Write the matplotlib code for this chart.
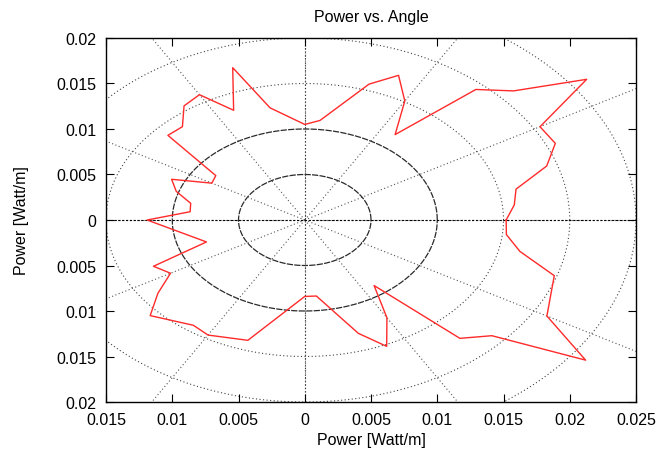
import numpy as np
import matplotlib
matplotlib.use("Agg")
import matplotlib.pyplot as plt
from matplotlib.ticker import FuncFormatter, MultipleLocator

plt.rcParams['font.family'] = ['Liberation Sans', 'DejaVu Sans']

# Data: angle (degrees) and power (Watt/m)
angle_deg = [0, 6, 12, 18, 24, 30, 36, 42, 48, 54, 60, 66, 72, 84, 90,
             102, 108, 114, 120, 126, 132, 138, 144, 150, 156, 162, 168, 174, 180,
             198, 204, 210, 216, 222, 234, 240, 252, 270, 276, 288, 294, 300, 306,
             312, 318, 324, 330, 342, 348, 354, 360]
power = [0.0152, 0.0159, 0.0163, 0.0192, 0.0207, 0.0205, 0.0263, 0.0212, 0.0193, 0.0116,
         0.0151, 0.0174, 0.0157, 0.0110, 0.0105,
         0.0126, 0.0176, 0.0132, 0.0159, 0.0155, 0.0138, 0.0139, 0.0083, 0.0081, 0.0110,
         0.0102, 0.0088, 0.0087, 0.0119,
         0.0078, 0.0125, 0.0117, 0.0137, 0.0157, 0.0143, 0.0146, 0.0139, 0.0084, 0.0084,
         0.0131, 0.0152, 0.0124, 0.0089,
         0.0175, 0.0190, 0.0262, 0.0211, 0.0198, 0.0166, 0.0153, 0.0152]

grid_radii = [0.005, 0.01, 0.015, 0.02, 0.025]
spoke_angles = list(range(0, 360, 30))

fig = plt.figure(figsize=(6.61, 4.56), dpi=100)
ax = fig.add_axes([0.1604, 0.1162, 0.8018, 0.7983])
ax.set_xlim(-0.015, 0.025)
ax.set_ylim(-0.02, 0.02)

t = np.linspace(0, 2 * np.pi, 400)
for r in grid_radii:
    if r <= 0.01:
        ax.plot(r * np.cos(t), r * np.sin(t), color='#2a2a2a', lw=0.9,
                ls=(0, (5, 1)), zorder=1)
    else:
        ax.plot(r * np.cos(t), r * np.sin(t), color='#444444', lw=0.8,
                ls=(0, (1, 2.2)), zorder=1)

for a in spoke_angles:
    th = np.radians(a)
    ax.plot([0, 0.06 * np.cos(th)], [0, 0.06 * np.sin(th)], color='#555555',
            lw=0.8, ls=(0, (1, 2.2)), zorder=1)

ax.axhline(0, color='black', lw=0.8, ls=(0, (2, 1.5)), zorder=1)
ax.axvline(0, color='#333333', lw=0.8, ls=(0, (1, 2)), zorder=1)

th = np.radians(angle_deg)
pw = np.array(power)
ax.plot(pw * np.cos(th), pw * np.sin(th), color='#ff2a2a', lw=1.0, zorder=3)

fmt = FuncFormatter(lambda v, p: f"{abs(v):g}")
ax.xaxis.set_major_locator(MultipleLocator(0.005))
ax.yaxis.set_major_locator(MultipleLocator(0.005))
ax.xaxis.set_major_formatter(fmt)
ax.yaxis.set_major_formatter(fmt)
ax.tick_params(direction='in', length=6, width=0.8, top=True, right=True,
               labelsize=11.5)
ax.tick_params(axis='x', pad=7)
ax.tick_params(axis='y', pad=7)
for s in ax.spines.values():
    s.set_linewidth(1.0)

ax.set_title('Power vs. Angle', fontsize=11.5, pad=12)
ax.set_xlabel('Power [Watt/m]', fontsize=11.5, labelpad=4)
ax.set_ylabel('Power [Watt/m]', fontsize=11.5, labelpad=20)

fig.savefig('out.png', dpi=100)
